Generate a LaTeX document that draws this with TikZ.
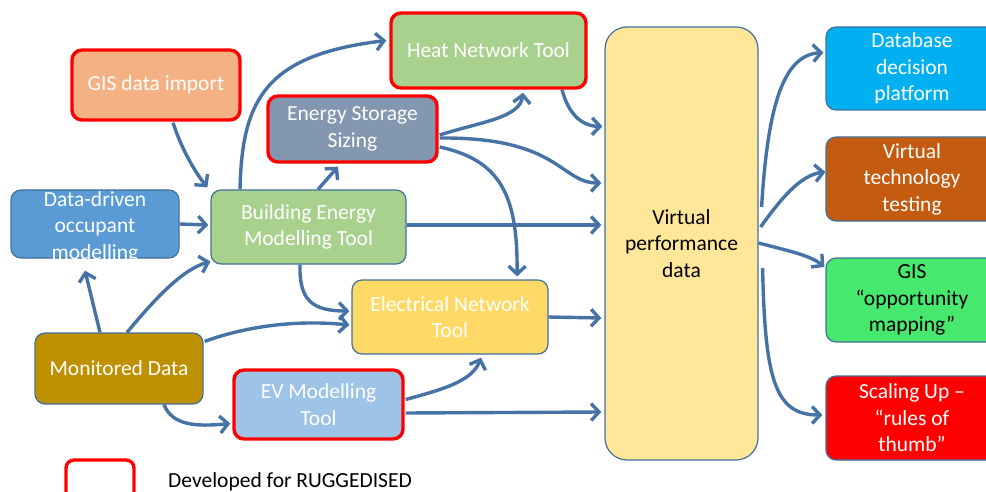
\documentclass[tikz,border=0pt]{standalone}
\usepackage{fontspec}
\setmainfont{Carlito}
\usetikzlibrary{arrows.meta,calc}

\definecolor{edgeblue}{HTML}{41719C}
\definecolor{flowblue}{RGB}{70,115,165}
\definecolor{gisfill}{HTML}{F4B183}
\definecolor{greenfill}{HTML}{A9D18E}
\definecolor{storefill}{HTML}{8497B0}
\definecolor{occfill}{HTML}{5B9BD5}
\definecolor{elecfill}{HTML}{FFD966}
\definecolor{monfill}{HTML}{BF9000}
\definecolor{evfill}{HTML}{9DC3E6}
\definecolor{vpdfill}{HTML}{FFE699}
\definecolor{dbfill}{HTML}{00B0F0}
\definecolor{vttfill}{HTML}{C55A11}
\definecolor{oppfill}{RGB}{70,232,110}
\definecolor{scalefill}{HTML}{FF0000}

\begin{document}
\begin{tikzpicture}[x=1pt,y=-1pt,
  txt/.style={font=\fontsize{21.5}{26.5}\selectfont},
  box/.style={txt, rectangle, rounded corners=10pt, draw=edgeblue, line width=1.2pt,
    text=white, align=center, inner sep=0pt},
  ruggedised/.style={draw=red, line width=3.4pt},
  flow/.style={draw=flowblue, line width=3.4pt,
    -{Straight Barb[length=8pt,width=17pt,line width=3.4pt]}}
]
\useasboundingbox (0,0) rectangle (986,492);

% input and tool boxes
\node[box, ruggedised, fill=gisfill, minimum width=168pt, minimum height=70pt] (gis) at (156,85) {GIS data import};
\node[box, ruggedised, fill=greenfill, minimum width=195pt, minimum height=75pt] (heat) at (488.5,50.5) {Heat Network Tool};
\node[box, ruggedised, fill=storefill, minimum width=169pt, minimum height=66pt] (ess) at (352.5,129) {Energy Storage\\Sizing};
\node[box, fill=occfill, minimum width=168pt, minimum height=68pt] (ddo) at (95,224) {};
\begin{scope}
  \clip (0,150) rectangle (200,258);
  \node[txt, text=white, align=center, inner sep=0pt] (ddotext) at (95,227) {Data-driven\\occupant\\modelling};
\end{scope}
\node[box, fill=greenfill, minimum width=195pt, minimum height=74pt] (bem) at (308.5,227) {Building Energy\\Modelling Tool};
\node[box, fill=elecfill, minimum width=196pt, minimum height=74pt] (ent) at (450,317) {Electrical Network\\Tool};
\node[box, fill=monfill, minimum width=168pt, minimum height=71pt] (mon) at (119,368.5) {Monitored Data};
\node[box, ruggedised, fill=evfill, minimum width=169pt, minimum height=69pt] (ev) at (318.5,404.5) {EV Modelling\\Tool};

% central data store
\node[box, rounded corners=22pt, fill=vpdfill, text=black, minimum width=153pt, minimum height=433pt] (vpd) at (681.5,243.5) {Virtual\\performance\\data};

% outputs
\node[box, fill=dbfill, minimum width=172pt, minimum height=83pt] (db) at (912,68.5) {Database\\decision\\platform};
\node[box, fill=vttfill, minimum width=172pt, minimum height=84pt] (vtt) at (912,179) {Virtual\\technology\\testing};
\node[box, fill=oppfill, text=black, minimum width=172pt, minimum height=84pt] (gop) at (912,300) {GIS\\“opportunity\\mapping”};
\node[box, fill=scalefill, minimum width=172pt, minimum height=84pt] (scu) at (912,418) {Scaling Up –\\“rules of\\thumb”};

% legend
\node[rectangle, rounded corners=8pt, ruggedised, minimum width=68pt, minimum height=46pt, inner sep=0pt] (legbox) at (100,483) {};
\node[txt, anchor=base west, text=black, inner sep=0pt] (legtext) at (168,487) {Developed for RUGGEDISED};

% connectors
\draw[flow] ($(gis.south)+(17,1)$) .. controls (182,150) and (195,172) .. ($(bem.north west)+(-3,-2)$);
\draw[flow] (ddo.east) -- ($(bem.west)+(-2,-2)$);
\draw[flow] ($(bem.north)+(-68.5,0)$) .. controls (242,100) and (265,55) .. ($(heat.west)+(-3,-10)$);
\draw[flow] ($(bem.north)+(9.5,0)$) -- ($(ess.south)+(-14.5,3)$);
\draw[flow] ($(bem.east)+(0,-2)$) -- ($(vpd.west)+(-3,-18.5)$);
\draw[flow] ($(bem.south)+(-8.5,0)$) .. controls (299,300) and (312,311) .. ($(ent.west)+(-2,-6)$);

\draw[flow] ($(ess.east)+(1,6)$) .. controls (480,122) and (520,118) .. ($(heat.south)+(34.5,3)$);
\draw[flow] ($(ess.east)+(1,9)$) .. controls (560,137) and (560,183) .. ($(vpd.west)+(-3,-60.5)$);
\draw[flow] ($(ess.east)+(1,18)$) .. controls (500,160) and (518,195) .. ($(ent.north)+(67,-3)$);
\draw[flow] ($(heat.south)+(73.5,0)$) .. controls (568,112) and (580,126) .. ($(vpd.west)+(-2,-117)$);

\draw[flow] ($(mon.north)+(-19,0)$) -- ($(ddo.south)+(-10,12)$);
\draw[flow] ($(mon.north)+(8,0)$) .. controls (150,305) and (180,270) .. ($(bem.south west)+(0,-3)$);
\draw[flow] ($(mon.north east)+(1,9)$) .. controls (250,325) and (300,320) .. ($(ent.west)+(-2,8)$);
\draw[flow] ($(mon.south)+(45,0)$) .. controls (172,425) and (195,427) .. ($(ev.west)+(-2,19)$);

\draw[flow] ($(ev.east)+(1,-5)$) .. controls (440,390) and (472,382) .. ($(ent.south)+(31,3)$);
\draw[flow] ($(ev.east)+(1,8.5)$) -- ($(vpd.west)+(-3,168.5)$);
\draw[flow] (ent.east) -- ($(vpd.west)+(-3,74.5)$);

\draw[flow] ($(vpd.east)+(3,-36.5)$) .. controls (768,100) and (785,55) .. ($(db.west)+(-2,-16)$);
\draw[flow] ($(vpd.east)+(2,-16.5)$) .. controls (780,200) and (800,175) .. ($(vtt.west)+(0,-7)$);
\draw[flow] ($(vpd.east)+(0,-0.5)$) .. controls (785,250) and (810,255) .. ($(gop.west)+(-1,-33)$);
\draw[flow] ($(vpd.east)+(4,24.5)$) .. controls (765,380) and (775,415) .. ($(scu.west)+(-3,-3)$);
\end{tikzpicture}
\end{document}
